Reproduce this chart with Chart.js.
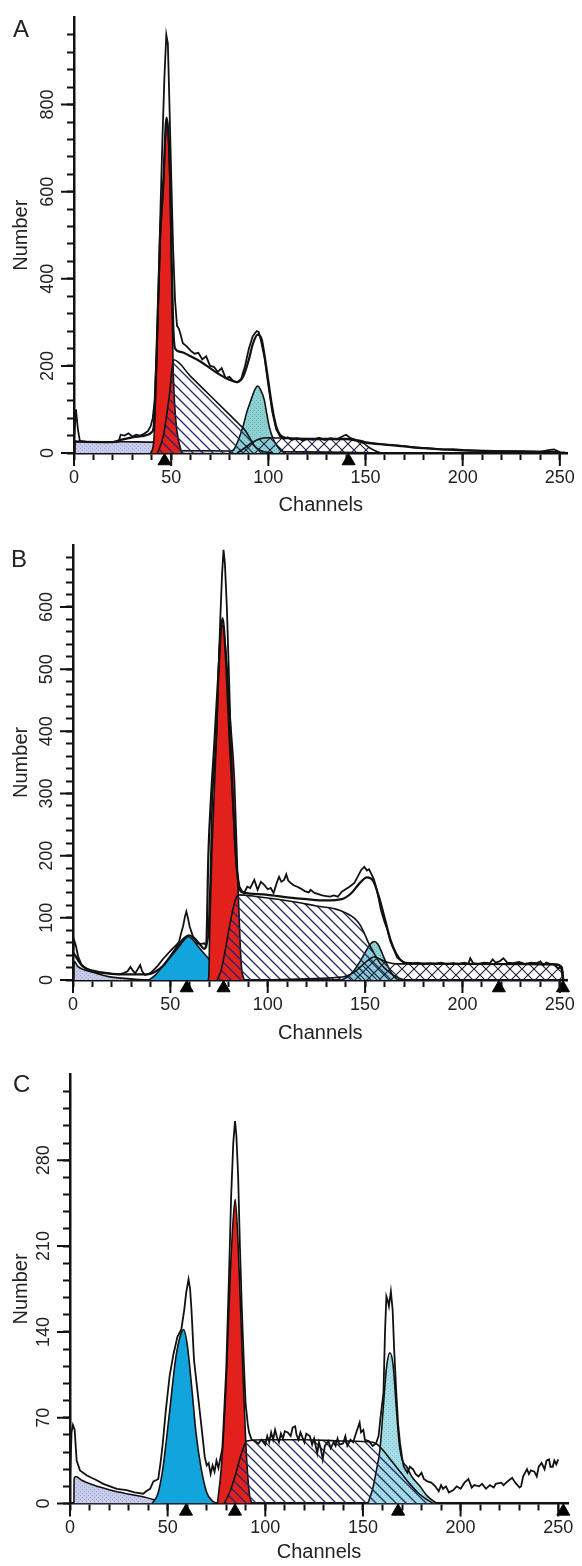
<!DOCTYPE html>
<html lang="en">
<head>
<meta charset="UTF-8">
<title>DNA content histograms</title>
<script src="https://cdn.jsdelivr.net/npm/chart.js"></script>
<style>
  body { margin: 0; background: #fff; width: 582px; height: 1566px; position: relative; overflow: hidden;
         font-family: 'Liberation Sans', Arial, Helvetica, sans-serif; }
  canvas { position: absolute; left: 0; }
  .letter { position: absolute; font-size: 24px; line-height: 24px; color: #222; }
</style>
</head>
<body>
<canvas id="chartA" width="582" height="519" style="top:0px"></canvas>
<canvas id="chartB" width="582" height="528" style="top:519px"></canvas>
<canvas id="chartC" width="582" height="519" style="top:1047px"></canvas>
<div class="letter" style="left:13px;top:17px">A</div>
<div class="letter" style="left:11px;top:547px">B</div>
<div class="letter" style="left:13px;top:1072px">C</div>

<script>
// ---- panel A : [channel, count] ----
const markersA = [46.6, 141.3];
const rawA = [[0,30],[1,100],[2,55],[3,28],[6,26],[10,25],[15,25],[20,25],[23,26],[24,42],[26,40],[28,45],[30,38],[32,42],[34,40],[36,44],[38,50],[39.5,62],[40.5,80],[41.5,120],[42.5,230],[43.5,380],[44.5,560],[45.5,720],[46.5,860],[47.5,960],[48.3,940],[49,820],[50,640],[51,470],[52,350],[53,292],[54,285],[55,270],[56,252],[58,245],[60,235],[62,228],[64,230],[66,215],[68,222],[70,200],[72,198],[74,186],[76,195],[78,172],[80,175],[82,165],[84,162],[86,170],[88,200],[90,240],[92,268],[94,280],[95,278],[96,262],[98,220],[100,155],[102,95],[104,55],[106,38],[108,32],[110,36],[112,30],[115,34],[118,28],[120,33],[123,30],[126,35],[129,30],[132,34],[135,31],[138,38],[140,42],[142,35],[145,30],[148,28],[150,25],[155,22],[160,20],[165,18],[170,16],[175,13],[180,12],[185,10],[190,8],[195,9],[200,7],[210,5],[220,4],[230,4],[240,3],[245,7],[247,8],[250,2],[253,1]];
const fitA = [[0,27],[3,26],[20,25],[24,30],[30,36],[38,42],[40,48],[41,60],[42.5,230],[44.3,500],[45.9,620],[47.6,770],[48.8,720],[49.6,600],[50.2,450],[51,300],[52,240],[55,232],[60,222],[65,210],[70,195],[75,180],[80,168],[84,163],[87,175],[90,215],[92,250],[94.5,272],[96.5,262],[98,225],[100,165],[102,105],[104,62],[106,42],[110,34],[120,32],[140,32],[145,29],[150,24],[160,19],[170,15],[180,11],[190,8],[200,6],[220,4],[250,2]];
const debrisA = [[0.5,0],[0.6,24],[2,26],[10,26],[25,26],[40,25],[47,24],[49.5,18],[51,8],[53,5],[70,5],[90,4],[110,3],[130,2],[145,1],[155,0]];
const g1A = [[39.5,0],[41,25],[42.5,200],[44.3,480],[45.9,600],[47.6,755],[48.8,700],[49.6,580],[50.2,420],[51,200],[52.5,70],[54,25],[55.5,0]];
const sphaseA = [[43,0],[46,40],[49,130],[51.3,214],[60,176],[70,132],[80,88],[85,66],[88,52],[90,38],[92,22],[94,11],[97,4],[102,0]];
const g2A = [[80,0],[82.7,11],[85,35],[86.9,60],[89,95],[91.1,122],[93,145],[94.5,154],[96,145],[97.9,122],[99.2,90],[100.5,60],[102.5,32],[104.7,15],[107,4],[109,0]];
const aggA = [[84,0],[88,12],[92,25],[96,33],[100,35],[110,34],[120,33],[130,33],[140,33],[145,30],[149,22],[152,12],[155,5],[158,0]];

// ---- panel B ----
const markersB = [58.4, 77.3, 218.7, 251.6];
const rawB = [[0,40],[0.6,64],[1.5,55],[2.6,38],[4.3,25],[6,20],[8.5,16],[12,13],[15,12],[20,10],[23.6,9],[26,11],[28,14],[29.5,21],[31,14],[32,11],[33,16],[34.5,24],[35.5,14],[37,8],[39,10],[40.4,13],[42,18],[43.8,24],[46,33],[48.9,43],[51,50],[53,56],[54.5,62],[55.5,75],[56.5,86],[57.5,102],[58.2,110],[59,100],[59.9,86],[61.6,70],[63,64],[64.1,59],[66,58],[67.5,59],[68.5,54],[69.5,70],[70.5,160],[71.5,290],[72.5,340],[73.5,380],[74.5,470],[75.5,570],[76.5,650],[77.3,692],[78,670],[79,600],[80,500],[81,390],[82,300],[83,225],[84,180],[85.5,150],[87,142],[88,141],[89.5,150],[91,148],[93.1,161],[94.8,145],[96.5,158],[98.2,153],[100,146],[101.5,148],[103,140],[104.5,155],[105.8,166],[107,158],[108.4,161],[109.5,170],[110.5,160],[111.8,156],[113.5,152],[115.2,150],[117,147],[119,143],[121,141],[122,145],[124,140],[126,138],[128,136],[130,135],[132,134],[134,136],[136,134],[138,142],[140,146],[142,150],[144.5,156],[146,165],[148,177],[149.6,182],[151,176],[152,178],[153,172],[154.5,162],[155.6,150],[157,130],[158.1,113],[159.8,95],[161.5,80],[163,62],[164.9,48],[166.5,36],[168.2,32],[170,28],[171.6,27],[174,26],[177,28],[180,25],[183,27],[186,26],[189,28],[192,25],[195,27],[198,26],[201,28],[203,26],[204,35],[205.5,27],[208,26],[211,28],[214,27],[215.5,33],[217,28],[219,30],[221,35],[223,28],[226,27],[229,29],[232,26],[235,28],[238,27],[240,30],[241.6,24],[243,28],[245,26],[247,25],[249,19],[251,20],[251.8,0]];
const fitB = [[0,45],[1,40],[2.5,32],[5,22],[10,15],[20,10],[30,9],[38,9],[42,13],[46,22],[50,38],[54,56],[57,67],[59.5,72],[62,68],[65,58],[67.5,50],[68.5,60],[69.5,200],[71,300],[72.5,375],[74.5,485],[76.8,582],[78.5,515],[80.5,380],[82.5,268],[84,185],[85.5,145],[88,140],[100,137],[110,133],[120,130],[130,128],[138,130],[143,140],[147,155],[151,165],[154,160],[157,135],[160,100],[163,65],[166,42],[169,30],[173,27],[200,26],[248,25],[251,20],[251.8,0]];
const debrisB = [[0.5,0],[0.6,30],[2.4,22],[6,16],[10.7,12],[15,8],[19,5],[25,3],[32,1],[40,0]];
const blueB = [[39,0],[42,7],[45,18],[50,37],[54,52],[57,64],[59.2,70],[61.5,65],[65,51],[70,33],[75,15],[78,5],[80,0]];
const g1B = [[69.3,0],[69.7,5],[70.2,80],[71.4,214],[72.8,322],[74,420],[75,526],[76.8,570],[78.6,526],[80.5,430],[82.9,322],[84.6,161],[85.9,54],[86.7,16],[88,0]];
const sphaseB = [[74,0],[76,15],[78,45],[80,80],[82,112],[83.5,130],[85,137],[95,134],[105,130],[115,125],[125,119],[135,114],[140,108],[144.6,99],[147.5,88],[149.6,75],[152,58],[154.6,43],[157,30],[160,19],[163,11],[166,5],[170,0]];
const g2B = [[138,0],[141,5],[144,14],[147,28],[150,44],[152.5,57],[154.6,62],[156.5,58],[158.5,45],[160.5,30],[162.5,17],[164.7,6],[167,0]];
const aggB = [[100,0],[120,2],[135,4],[140,6],[145,14],[150,28],[154.6,37],[158,33],[162,28],[166,26],[175,26],[200,26],[225,26],[248,25],[250.5,20],[251.5,0]];

// ---- panel C ----
const markersC = [59.4, 84.5, 168, 252.6];
const rawC = [[0,20],[0.8,58],[1.5,64],[2.4,60],[3.4,35],[5.1,27],[8.5,23],[11,21],[13.7,19],[17,16],[20.5,14],[24,12],[29,11],[33,9],[37.5,8],[39,10],[41,12],[42.7,18],[44,19],[45.2,20],[46.5,35],[47.5,49],[49,75],[51,104],[53,122],[55,136],[57,142],[58.5,158],[59.5,172],[60.7,183],[61.5,175],[62.2,158],[63.5,117],[65.4,90],[67.3,63],[69,38],[70,31],[71,33],[72,24],[73,31],[74,26],[75,35],[76,29],[77,37],[78,45],[78.6,63],[80,110],[81.4,185],[82.5,250],[83.6,294],[84.5,312],[85.2,300],[86.1,267],[87,210],[88,158],[89,115],[89.9,82],[91,65],[91.7,58],[93,52],[94.6,51],[96.5,49],[98,52],[100,48],[101,55],[102,50],[103,58],[104,52],[105,60],[106,54],[107,50],[108,57],[109,53],[110,59],[111.5,58],[113,55],[114,62],[115.3,63],[116,56],[117,52],[118,58],[119,54],[120,50],[121,57],[122.8,55],[124,48],[125,53],[126.6,41],[127.5,50],[128.5,44],[129.4,36],[130.5,47],[132.3,51],[133.5,45],[135,50],[136,47],[137,53],[138,48],[139.8,49],[141,55],[142,47],[143.6,52],[145,50],[146,55],[147,60],[148.3,66],[149,58],[150.2,60],[151,52],[153,51],[155,47],[156.7,49],[158,55],[159,70],[160.5,90],[161.3,140],[162,169],[162.8,165],[163.3,161],[164.3,173],[165.2,158],[166,125],[167.1,90],[168,65],[169,49],[170,38],[170.9,30],[172,27],[172.8,25],[174,30],[175.6,28],[177,24],[178.4,22],[180,25],[181.2,20],[183,18],[185,17],[187,14],[188.8,10],[190,15],[191,12],[192.5,14],[194,9],[196.3,11],[198,14],[200,12],[202,17],[204,20],[205.7,13],[207,15],[209.5,14],[211,16],[213,12],[215,15],[217,13],[218,16],[220.8,17],[222,15],[224,18],[226.4,21],[228,17],[230.2,13],[231,14],[232,22],[234,28],[235,24],[236,27],[237.8,26],[239,22],[240,30],[241.5,33],[243,28],[244,35],[245.3,36],[246,30],[247.2,30],[248,35],[249,32],[250,36]];
const debrisC = [[2,0],[2.1,20],[3,22],[6,19],[12,15],[20.5,11],[29,8],[37.5,5.5],[43,3],[48,0]];
const blueC = [[42,0],[45,8],[47.5,28],[51,75],[54,117],[56.5,137],[58.2,142],[60,130],[62.5,92],[64.5,58],[67,30],[70,9],[73,2],[75,0]];
const g1C = [[75.5,0],[77.5,30],[80,100],[82,185],[83.7,235],[84.6,248],[86,215],[88,130],[90,50],[91.7,10],[93,0]];
const sphaseC = [[79,0],[82,10],[85,25],[88,42],[90.5,51],[100,52],[120,52],[140,51],[155,50],[157.5,48],[160,44],[165,34],[170,24],[174,16],[178,9],[182,4],[186,0]];
const g2C = [[152.5,0],[155,12],[157,28],[158.7,44],[160.5,80],[162,110],[163.8,123],[165.5,112],[167,80],[168.5,50],[170,36],[172.4,30],[175,22],[179.2,14],[183,6],[187.8,0]];

// ---- fills ----
function tile(size, draw) {
  const c = document.createElement('canvas');
  c.width = c.height = size;
  const g = c.getContext('2d');
  draw(g, size);
  return g.createPattern(c, 'repeat');
}
const hatch = tile(10, (g, s) => {
  g.strokeStyle = '#23286a'; g.lineWidth = 1.3;
  g.beginPath();
  g.moveTo(0, 0); g.lineTo(s, s);
  g.moveTo(-2, s - 2); g.lineTo(2, s + 2);
  g.moveTo(s - 2, -2); g.lineTo(s + 2, 2);
  g.stroke();
});
const cross = tile(12, (g, s) => {
  g.strokeStyle = '#1d1f3c'; g.lineWidth = 1.1;
  g.beginPath();
  g.moveTo(0, 0); g.lineTo(s, s);
  g.moveTo(s, 0); g.lineTo(0, s);
  g.stroke();
});
function dots(bg, fg) {
  return tile(4, (g, s) => {
    g.fillStyle = bg; g.fillRect(0, 0, s, s);
    g.fillStyle = fg; g.fillRect(0, 0, 1, 1); g.fillRect(2, 2, 1, 1);
  });
}
const lavender = dots('#c6cbea', '#9fa7d8');
const teal = dots('#8ed1d3', '#62b6ba');
const paleCyan = dots('#a5dce6', '#7fc6d4');
const red = '#e3211c';
const blue = '#12a4dd';

// longer ticks at the labelled values
Chart.register({
  id: 'majorTicks',
  afterDraw(chart, args, opts) {
    const {ctx, scales: {x, y}} = chart;
    ctx.save();
    ctx.strokeStyle = '#111';
    ctx.lineWidth = 2;
    ctx.beginPath();
    for (let v = 0; v <= 250; v += 50) {
      const px = x.getPixelForValue(v);
      ctx.moveTo(px, y.bottom); ctx.lineTo(px, y.bottom + 13);
    }
    for (let v = 0; v < y.max; v += opts.step) {
      const py = y.getPixelForValue(v);
      ctx.moveTo(x.left, py); ctx.lineTo(x.left - 13, py);
    }
    ctx.stroke();
    ctx.restore();
  }
});

Chart.defaults.font.family = "'Liberation Sans', Arial, Helvetica, sans-serif";
Chart.defaults.color = '#222';

function line(data, extra) {
  return Object.assign({
    data: data.map(([x, y]) => ({x, y})),
    borderColor: '#111', borderWidth: 1.7, pointRadius: 0, fill: false, tension: 0
  }, extra);
}
function area(data, fillStyle) {
  return line(data, {fill: 'origin', backgroundColor: fillStyle, cubicInterpolationMode: 'monotone', borderWidth: 1.6});
}

function drawPanel(id, p) {
  const datasets = [
    {
      data: p.markers.map(c => ({x: c, y: -p.yMax * 8 / 435})),
      showLine: false, pointStyle: 'triangle', pointRadius: 7.5,
      pointBackgroundColor: '#000', pointBorderColor: '#000', pointBorderWidth: 1, clip: false
    },
    line(p.raw, {borderWidth: 1.8})
  ];
  if (p.fit) datasets.push(line(p.fit, {borderWidth: 2.2, cubicInterpolationMode: 'monotone'}));
  p.areas.forEach(a => datasets.push(area(a[0], a[1])));

  new Chart(document.getElementById(id), {
    type: 'line',
    data: {datasets},
    options: {
      responsive: false, animation: false, devicePixelRatio: 1,
      layout: {padding: {top: p.padTop, right: p.padRight, bottom: 0, left: 0}},
      plugins: {legend: {display: false}, tooltip: {enabled: false}, majorTicks: {step: p.yLabelStep}},
      scales: {
        x: {
          type: 'linear', min: 0, max: p.xMax, z: 1,
          border: {color: '#111', width: 2.5},
          grid: {drawOnChartArea: false, tickLength: 7, tickWidth: 2, tickColor: '#111'},
          ticks: {stepSize: 10, includeBounds: false, autoSkip: false, maxRotation: 0, padding: 7, font: {size: 18},
                  callback: v => v % 50 === 0 ? v : ''},
          afterBuildTicks: s => { s.ticks = s.ticks.filter(t => t.value % 10 === 0 && t.value <= 250); },
          afterFit: s => { s.height = p.xAxisHeight; },
          title: {display: true, text: 'Channels', font: {size: 20}, padding: {top: 0, bottom: 2}}
        },
        y: {
          min: 0, max: p.yMax, z: 1,
          border: {color: '#111', width: 2.5},
          grid: {drawOnChartArea: false, tickLength: 7, tickWidth: 2, tickColor: '#111'},
          ticks: {stepSize: p.yStep, includeBounds: false, autoSkip: false, minRotation: 90, maxRotation: 90,
                  crossAlign: 'center', padding: 4, font: {size: 18},
                  callback: v => v % p.yLabelStep === 0 ? v : ''},
          afterBuildTicks: s => { s.ticks = s.ticks.filter(t => t.value < p.yMax); },
          afterFit: s => { s.width = p.yAxisWidth; },
          title: {display: true, text: 'Number', font: {size: 20}, padding: {top: 9, bottom: 0}}
        }
      }
    }
  });
}

drawPanel('chartA', {
  yMax: 1000, yStep: 40, yLabelStep: 200, xMax: 254,
  padTop: 17.5, padRight: 8, yAxisWidth: 74, xAxisHeight: 66,
  markers: markersA, raw: rawA, fit: fitA,
  areas: [[aggA, cross], [sphaseA, hatch], [g2A, teal], [g1A, red], [debrisA, lavender]]
});
drawPanel('chartB', {
  yMax: 700, yStep: 20, yLabelStep: 100, xMax: 254,
  padTop: 25.8, padRight: 7.4, yAxisWidth: 73, xAxisHeight: 67,
  markers: markersB, raw: rawB, fit: fitB,
  areas: [[aggB, cross], [sphaseB, hatch], [g2B, teal], [g1B, red], [blueB, blue], [debrisB, lavender]]
});
drawPanel('chartC', {
  yMax: 350, yStep: 14, yLabelStep: 70, xMax: 255,
  padTop: 27.5, padRight: 14, yAxisWidth: 70, xAxisHeight: 62.5,
  markers: markersC, raw: rawC, fit: null,
  areas: [[sphaseC, hatch], [g2C, paleCyan], [g1C, red], [blueC, blue], [debrisC, lavender]]
});
</script>
</body>
</html>
